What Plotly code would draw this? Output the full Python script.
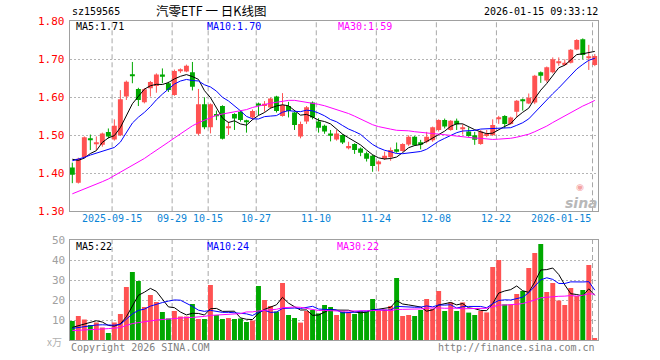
import pandas as pd
import plotly.graph_objects as go

# ---------------- data ----------------
dates = (
    ["2025-09-%02d" % d for d in [4, 5, 8, 9, 10, 11, 12, 15, 16, 17, 18, 19, 22, 23, 24, 25, 26, 29, 30]]
    + ["2025-10-%02d" % d for d in [9, 10, 13, 14, 15, 16, 17, 20, 21, 22, 23, 24, 27, 28, 29, 30, 31]]
    + ["2025-11-%02d" % d for d in [3, 4, 5, 6, 7, 10, 11, 12, 13, 14, 17, 18, 19, 20, 21, 24, 25, 26, 27, 28]]
    + ["2025-12-%02d" % d for d in [1, 2, 3, 4, 5, 8, 9, 10, 11, 12, 15, 16, 17, 18, 19, 22, 23, 24, 25, 26, 29, 30, 31]]
    + ["2026-01-%02d" % d for d in [5, 6, 7, 8, 9, 12, 13, 14, 15]]
)

open_ = [1.415, 1.375, 1.442, 1.491, 1.478, 1.475, 1.509, 1.489, 1.500, 1.602,
         1.659, 1.622, 1.587, 1.624, 1.630, 1.660, 1.637, 1.606, 1.670, 1.668,
         1.666, 1.504, 1.582, 1.521, 1.556, 1.577, 1.521, 1.556, 1.562, 1.537,
         1.547, 1.584, 1.577, 1.573, 1.602, 1.551, 1.577, 1.560, 1.497, 1.536,
         1.586, 1.536, 1.525, 1.505, 1.489, 1.501, 1.466, 1.477, 1.465, 1.453,
         1.446, 1.424, 1.438, 1.442, 1.463, 1.459, 1.476, 1.496, 1.482, 1.483,
         1.487, 1.514, 1.540, 1.514, 1.538, 1.516, 1.510, 1.500, 1.477, 1.498,
         1.501, 1.543, 1.551, 1.530, 1.562, 1.593, 1.584, 1.586, 1.666, 1.644,
         1.666, 1.692, 1.685, 1.691, 1.726, 1.753, 1.705, 1.685]
high = [1.428, 1.441, 1.497, 1.502, 1.497, 1.507, 1.518, 1.542, 1.619, 1.644,
        1.693, 1.625, 1.624, 1.643, 1.663, 1.676, 1.641, 1.673, 1.676, 1.686,
        1.693, 1.622, 1.600, 1.584, 1.565, 1.579, 1.536, 1.558, 1.566, 1.541,
        1.568, 1.586, 1.590, 1.599, 1.604, 1.611, 1.588, 1.562, 1.536, 1.577,
        1.589, 1.545, 1.528, 1.514, 1.514, 1.503, 1.483, 1.479, 1.468, 1.457,
        1.449, 1.434, 1.457, 1.468, 1.481, 1.479, 1.500, 1.498, 1.488, 1.509,
        1.523, 1.542, 1.544, 1.540, 1.544, 1.529, 1.521, 1.509, 1.514, 1.514,
        1.542, 1.551, 1.553, 1.549, 1.593, 1.597, 1.610, 1.659, 1.668, 1.681,
        1.705, 1.705, 1.700, 1.727, 1.753, 1.755, 1.738, 1.714]
low = [1.374, 1.373, 1.440, 1.461, 1.461, 1.470, 1.492, 1.486, 1.498, 1.593,
       1.637, 1.577, 1.584, 1.602, 1.612, 1.637, 1.614, 1.604, 1.664, 1.666,
       1.618, 1.500, 1.516, 1.505, 1.540, 1.489, 1.501, 1.514, 1.536, 1.507,
       1.540, 1.553, 1.562, 1.570, 1.560, 1.549, 1.547, 1.514, 1.492, 1.530,
       1.542, 1.507, 1.504, 1.484, 1.486, 1.477, 1.463, 1.451, 1.445, 1.431,
       1.404, 1.405, 1.435, 1.433, 1.454, 1.457, 1.472, 1.472, 1.463, 1.479,
       1.483, 1.510, 1.518, 1.512, 1.514, 1.502, 1.496, 1.475, 1.475, 1.495,
       1.498, 1.530, 1.519, 1.528, 1.547, 1.565, 1.582, 1.582, 1.638, 1.639,
       1.663, 1.683, 1.683, 1.689, 1.724, 1.700, 1.672, 1.682]
close = [1.396, 1.438, 1.495, 1.489, 1.480, 1.505, 1.497, 1.525, 1.595, 1.641,
         1.657, 1.593, 1.621, 1.640, 1.660, 1.654, 1.619, 1.669, 1.674, 1.683,
         1.628, 1.582, 1.521, 1.582, 1.551, 1.491, 1.523, 1.544, 1.540, 1.535,
         1.564, 1.578, 1.583, 1.597, 1.564, 1.580, 1.564, 1.527, 1.530, 1.574,
         1.547, 1.520, 1.510, 1.499, 1.505, 1.481, 1.472, 1.461, 1.454, 1.438,
         1.419, 1.431, 1.446, 1.461, 1.457, 1.477, 1.496, 1.474, 1.475, 1.496,
         1.521, 1.540, 1.523, 1.538, 1.529, 1.521, 1.498, 1.488, 1.510, 1.505,
         1.527, 1.545, 1.530, 1.547, 1.591, 1.590, 1.599, 1.657, 1.657, 1.679,
         1.700, 1.695, 1.691, 1.725, 1.751, 1.711, 1.708, 1.709]
volume = [9.5, 12.0, 10.3, 7.5, 8.8, 6.3, 3.5, 8.7, 13.0, 26.5,
          34.0, 29.5, 16.5, 22.5, 19.0, 14.0, 10.8, 14.5, 11.7, 11.7,
          18.0, 10.5, 10.5, 27.5, 12.5, 10.5, 11.0, 10.5, 10.8, 9.0,
          9.8, 27.0, 20.0, 17.0, 14.2, 28.5, 12.5, 11.0, 8.7, 14.5,
          15.0, 13.3, 17.5, 16.5, 12.5, 14.2, 13.8, 13.0, 14.5, 14.2,
          20.5, 14.8, 15.2, 17.0, 31.0, 12.0, 12.5, 12.0, 15.0, 20.5,
          15.5, 24.5, 14.5, 18.8, 14.5, 18.8, 13.7, 12.5, 14.5, 13.8,
          36.5, 40.0, 17.8, 17.8, 23.0, 24.5, 36.0, 43.5, 48.0, 24.0,
          28.5, 19.7, 17.5, 26.0, 22.0, 25.0, 37.5, 1.0]

# moving-average values before a full window is available
ma5_head = [1.437, 1.434, 1.440, 1.452]
ma10_head = [1.433, 1.437, 1.442, 1.448, 1.453, 1.458, 1.462, 1.468, 1.482]
ma30_head = [1.346, 1.352, 1.358, 1.364, 1.371, 1.378, 1.385, 1.394, 1.402, 1.411,
             1.420, 1.430, 1.439, 1.450, 1.460, 1.472, 1.482, 1.493, 1.504, 1.514,
             1.525, 1.533, 1.540, 1.547, 1.553, 1.556, 1.559, 1.561, 1.565]
vma5_head = [6.3, 7.2, 7.8, 8.8]
vma10_head = [5.8, 6.3, 6.8, 7.2, 7.5, 7.6, 7.6, 7.4, 7.8]
vma30_head = [4.7, 4.8, 5.0, 5.2, 5.3, 5.5, 5.7, 5.8, 6.2, 7.3,
              8.2, 8.7, 9.0, 9.5, 10.0, 10.3, 10.5, 10.8, 11.0, 11.2,
              11.3, 11.5, 11.8, 12.3, 12.5, 12.7, 12.8, 13.0, 13.2]

tick_dates = ["2025-09-15", "2025-09-29", "2025-10-15", "2025-10-27", "2025-11-10",
              "2025-11-24", "2025-12-08", "2025-12-22", "2026-01-15"]
tick_labels = ["2025-09-15", "09-29", "10-15", "10-27", "11-10", "11-24", "12-08", "12-22", "2026-01-15"]
price_ticks = [1.30, 1.40, 1.50, 1.60, 1.70, 1.80]
vol_ticks = [10, 20, 30, 40, 50]

# ---------------- helpers ----------------
W, H = 660, 360
RED = "#ff5252"
GREEN = "#00a800"
MONO = "DejaVu Sans Mono"


def px(x):
    return x / W


def py(y):
    return 1 - y / H


def moving_avg(vals, n, head):
    s = pd.Series(vals, dtype=float).rolling(n).mean()
    s.iloc[:len(head)] = head
    return s.tolist()


idx = list(range(len(dates)))
up = [c >= o for o, c in zip(open_, close)]
colors = [RED if u else GREEN for u in up]
body_base = [min(o, c) for o, c in zip(open_, close)]
body_h = [max(abs(c - o), 0.0026) for o, c in zip(open_, close)]

fig = go.Figure()

# wicks
for flag, col in [(True, RED), (False, GREEN)]:
    wx, wy = [], []
    for i in idx:
        if up[i] == flag:
            wx += [i, i, None]
            wy += [low[i], high[i], None]
    fig.add_trace(go.Scatter(x=wx, y=wy, mode="lines", line=dict(color=col, width=1),
                             hoverinfo="skip", xaxis="x", yaxis="y"))

# candle bodies
fig.add_trace(go.Bar(x=idx, y=body_h, base=body_base, width=0.82,
                     marker=dict(color=colors, line=dict(width=0)),
                     xaxis="x", yaxis="y"))

# price MAs
for n, head, col in [(5, ma5_head, "#000000"), (10, ma10_head, "#0000ff"), (30, ma30_head, "#ff00ff")]:
    fig.add_trace(go.Scatter(x=idx, y=moving_avg(close, n, head), mode="lines",
                             line=dict(color=col, width=1), xaxis="x", yaxis="y"))

# volume bars
fig.add_trace(go.Bar(x=idx, y=volume, width=0.82,
                     marker=dict(color=colors, line=dict(width=0)),
                     xaxis="x2", yaxis="y2"))
for n, head, col in [(5, vma5_head, "#000000"), (10, vma10_head, "#0000ff"), (30, vma30_head, "#ff00ff")]:
    fig.add_trace(go.Scatter(x=idx, y=moving_avg(volume, n, head), mode="lines",
                             line=dict(color=col, width=1), xaxis="x2", yaxis="y2"))

xdom = [px(69.5), px(597.5)]
xr = [-0.47, 87.45]
axis_common = dict(showline=True, mirror=True, linecolor="#a0a0a0", linewidth=1,
                   zeroline=False, showticklabels=False, ticks="", fixedrange=True)

fig.update_layout(
    width=W, height=H, autosize=False,
    margin=dict(l=0, r=0, t=0, b=0),
    paper_bgcolor="white", plot_bgcolor="white",
    showlegend=False,
    xaxis=dict(domain=xdom, range=xr, anchor="y", showgrid=False, **axis_common),
    yaxis=dict(domain=[py(211.3), py(21.3)], range=[1.30, 1.80], anchor="x",
               tickvals=price_ticks, showgrid=True, gridcolor="#b4b4b4",
               griddash="2px,2px", gridwidth=1, **axis_common),
    xaxis2=dict(domain=xdom, range=xr, anchor="y2", showgrid=False, **axis_common),
    yaxis2=dict(domain=[py(340), py(240)], range=[0, 50], anchor="x2",
                tickvals=vol_ticks[:-1], showgrid=True, gridcolor="#b4b4b4",
                griddash="2px,2px", gridwidth=1, **axis_common),
)

shapes = []
ann = []
tick_pos = [dates.index(d) for d in tick_dates]
for k, (p, lab) in enumerate(zip(tick_pos, tick_labels)):
    xv = p - 0.38
    for yref in ["y domain", "y2 domain"]:
        shapes.append(dict(type="line", xref="x" if yref == "y domain" else "x2", yref=yref,
                           x0=xv, x1=xv, y0=0, y1=1,
                           line=dict(color="#a8a8a8", width=1, dash="5px,3px"), layer="below"))
    ann.append(dict(text=lab, x=xv, xref="x", y=py(219), yref="paper",
                    xanchor="right" if k == len(tick_pos) - 1 else "center", yanchor="middle",
                    showarrow=False, font=dict(family=MONO, size=10, color="#0a84d6")))
fig.update_layout(shapes=shapes)

for v in price_ticks:
    ann.append(dict(text="%.2f" % v, x=px(67), xref="paper", y=v, yref="y",
                    xanchor="right", yanchor="middle", showarrow=False,
                    font=dict(family=MONO, size=11, color="#ff0000")))
for v in vol_ticks:
    ann.append(dict(text=str(v), x=px(67), xref="paper", y=v, yref="y2",
                    xanchor="right", yanchor="middle", showarrow=False,
                    font=dict(family=MONO, size=11, color="#a0a0a0")))
ann.append(dict(text="x万", x=px(64), xref="paper", y=py(341), yref="paper",
                xanchor="right", yanchor="middle", showarrow=False,
                font=dict(family="Noto Sans CJK SC", size=10, color="#b0b0b0")))

def txt(t, x, y, color="#000000", anchor="left", size=10, family=MONO):
    ann.append(dict(text=t, x=px(x), xref="paper", y=py(y), yref="paper",
                    xanchor=anchor, yanchor="middle", showarrow=False,
                    font=dict(family=family, size=size, color=color)))

txt("sz159565", 70, 11)
txt("汽零ETF 一 日K线图", 211, 10.5, anchor="center", size=12.5, family="Noto Sans CJK SC")
txt("2026-01-15 09:33:12", 600, 11)
ann[-1]["xanchor"] = "right"
txt("MA5:1.71", 74, 26.5)
txt("MA10:1.70", 205, 26.5, color="#0000ff")
txt("MA30:1.59", 336, 26.5, color="#ff00ff")
txt("MA5:22", 74, 246)
txt("MA10:24", 205, 246, color="#0000ff")
txt("MA30:22", 335, 246, color="#ff00ff")
txt("Copyright 2026 SINA.COM", 69, 347, color="#808080")
txt("http://finance.sina.com.cn", 597, 347, color="#808080", anchor="right")
txt("◉", 580, 186.5, color="#f4a4a4", anchor="center", size=9, family="DejaVu Sans")
txt("<b><i>sina</i></b>", 581, 202.5, color="#b8b8b8", anchor="center", size=14, family="DejaVu Sans")

fig.update_layout(annotations=ann)
fig.write_html("out.html",
               config={"displayModeBar": False},
               post_script="document.body.style.margin='0';document.body.style.overflow='hidden';")
